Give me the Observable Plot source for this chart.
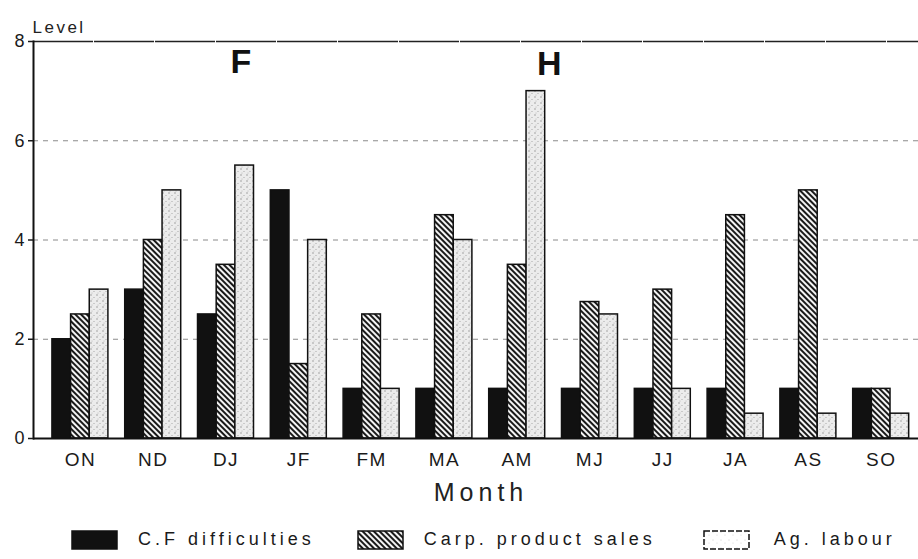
<!DOCTYPE html>
<html>
<head>
<meta charset="utf-8">
<script src="https://cdn.jsdelivr.net/npm/d3@7"></script>
<script src="https://cdn.jsdelivr.net/npm/@observablehq/plot@0.6"></script>
<style>
  body { margin: 0; background: #fff; }
  #wrap { width: 918px; height: 559px; position: relative; overflow: hidden; }
  #chart svg { display: block; }
  g[aria-label="x-axis tick label"] text { letter-spacing: 1.5px; }
  #legend { display: flex; align-items: center; height: 39px; padding-left: 71px;
            font-family: "Liberation Sans", Arial, sans-serif; font-size: 18px; letter-spacing: 4px; color: #1a1a1a; }
  #legend .sw { display: inline-block; width: 47px; height: 20px; }
  #legend .lab { margin-left: 20px; }
  #legend .item + .item { margin-left: 42px; }
  #legend .item:last-child { margin-left: 47px; }
  #legend .item:last-child .lab { margin-left: 24px; }
  #legend .item { display: flex; align-items: center; }
</style>
</head>
<body>
<svg width="0" height="0" style="position:absolute">
  <defs>
    <pattern id="hatch" patternUnits="userSpaceOnUse" width="4" height="4" patternTransform="rotate(45)">
      <rect width="4" height="4" fill="#f4f4f4"></rect>
      <rect width="4" height="2" fill="#1a1a1a"></rect>
    </pattern>
    <pattern id="stipple" patternUnits="userSpaceOnUse" width="6" height="6">
      <rect width="6" height="6" fill="#ececec"></rect>
      <circle cx="1" cy="1" r="0.7" fill="#8a8a8a"></circle>
      <circle cx="4" cy="3.5" r="0.6" fill="#a0a0a0"></circle>
      <circle cx="2" cy="5" r="0.5" fill="#b0b0b0"></circle>
    </pattern>
    <pattern id="stippleLight" patternUnits="userSpaceOnUse" width="8" height="8">
      <rect width="8" height="8" fill="#ffffff"></rect>
      <circle cx="2" cy="2" r="0.5" fill="#bbb"></circle>
      <circle cx="6" cy="5" r="0.5" fill="#ccc"></circle>
    </pattern>
  </defs>
</svg>
<div id="wrap">
  <div id="chart"></div>
  <div id="legend"></div>
</div>
<script>
// ---- data ----
const months = ["ON","ND","DJ","JF","FM","MA","AM","MJ","JJ","JA","AS","SO"];
const cfDifficulties = [2, 3, 2.5, 5, 1, 1, 1, 1, 1, 1, 1, 1];
const carpSales      = [2.5, 4, 3.5, 1.5, 2.5, 4.5, 3.5, 2.75, 3, 4.5, 5, 1];
const agLabour       = [3, 5, 5.5, 4, 1, 4, 7, 2.5, 1, 0.5, 0.5, 0.5];
const levelTicks = [0, 2, 4, 6, 8];
const gridLevels = [2, 4, 6];
const seriesNames = ["C.F difficulties", "Carp. product sales", "Ag. labour"];
const seriesFills = ["#111111", "url(#hatch)", "url(#stipple)"];
const annLabels = ["F", "H"];
const annMonths = ["DJ", "AM"];
const annLevels = [7.58, 7.55];
const yLabel = "Level";
const xLabel = "Month";

const rows = months.map((m, i) => ({month: m, cf: cfDifficulties[i], carp: carpSales[i], labour: agLabour[i]}));
const font = "'Liberation Sans', Arial, sans-serif";
const barW = 56 / 3;

const chart = Plot.plot({
  width: 918,
  height: 520,
  marginLeft: 33,
  marginRight: 0,
  marginTop: 41,
  marginBottom: 82,
  style: {fontFamily: font, fontSize: "18px", color: "#1a1a1a", background: "#fff"},
  x: {type: "band", domain: months, paddingInner: 0.231, paddingOuter: 0.194, align: 0.67, round: false, label: null},
  y: {domain: [0, 8], label: null},
  marks: [
    Plot.gridY(gridLevels, {stroke: "#777", strokeOpacity: 0.85, strokeDasharray: "5,5"}),
    Plot.ruleY([8], {stroke: "#222", strokeWidth: 1.6, strokeDasharray: "60,1"}),
    Plot.barY(rows, {x: "month", y: "cf", fill: seriesFills[0], stroke: "#111", strokeWidth: 1.5, insetRight: 2 * barW}),
    Plot.barY(rows, {x: "month", y: "carp", fill: seriesFills[1], stroke: "#111", strokeWidth: 1.5, insetLeft: barW, insetRight: barW}),
    Plot.barY(rows, {x: "month", y: "labour", fill: seriesFills[2], stroke: "#111", strokeWidth: 1.5, insetLeft: 2 * barW}),
    Plot.ruleY([0], {stroke: "#111", strokeWidth: 2}),
    Plot.frame({anchor: "left", stroke: "#111", strokeWidth: 2}),
    Plot.axisY({ticks: levelTicks, tickSize: 5, tickPadding: 4, fontSize: 18, label: null, strokeWidth: 1.5}),
    Plot.axisX({tickSize: 0, tickPadding: 14, fontSize: 19, label: null}),
    Plot.text([yLabel], {frameAnchor: "top-left", dy: -21, dx: -1, textAnchor: "start", fontSize: 17, fill: "#222"}),
    Plot.text([xLabel], {frameAnchor: "bottom", dy: 62, dx: 5, fontSize: 25, fill: "#222"}),
    Plot.text([0], {x: () => annMonths[0], y: () => annLevels[0], text: () => annLabels[0], dx: 15, fontSize: 34, fontWeight: "bold", fill: "#111"}),
    Plot.text([1], {x: () => annMonths[1], y: () => annLevels[1], text: () => annLabels[1], dx: 32, fontSize: 34, fontWeight: "bold", fill: "#111"})
  ]
});
chart.querySelectorAll("text").forEach(t => {
  if (t.textContent === xLabel) t.style.letterSpacing = "5px";
  if (t.textContent === yLabel) t.style.letterSpacing = "2.5px";
});
document.getElementById("chart").append(chart);

// legend
const legend = document.getElementById("legend");
const swatchFills = ["#111111", "url(#hatch)", "url(#stippleLight)"];
seriesNames.forEach((name, i) => {
  const item = document.createElement("div");
  item.className = "item";
  item.innerHTML = `<svg class="sw" width="47" height="20"><rect x="1" y="1" width="45" height="18" fill="${swatchFills[i]}" stroke="#111" stroke-width="1.5" ${i === 2 ? 'stroke-dasharray="6,2"' : ''}></rect></svg><span class="lab">${name}</span>`;
  legend.append(item);
});
</script>
</body>
</html>
